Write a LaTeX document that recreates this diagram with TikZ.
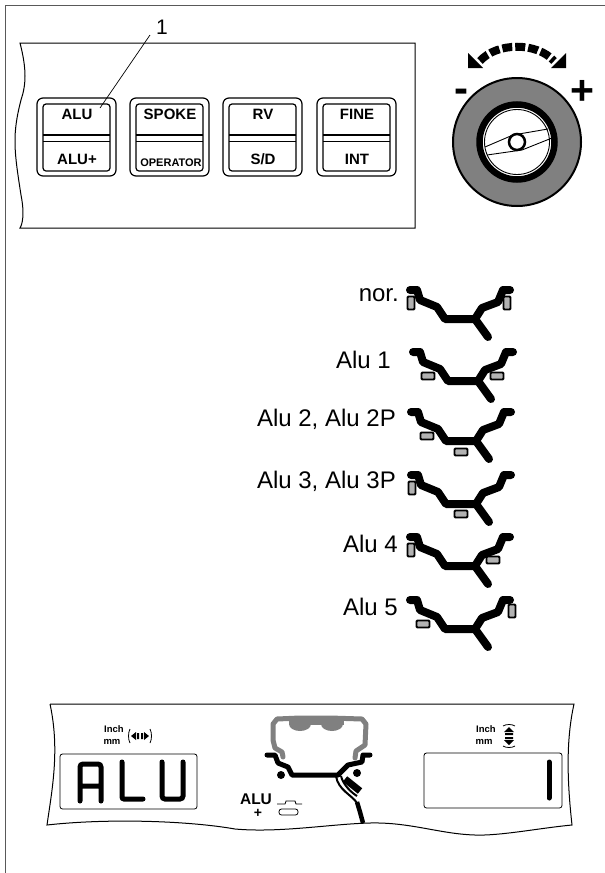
\documentclass[tikz,border=0pt]{standalone}
\usepackage{fontspec}
\setmainfont{Liberation Sans}
\usetikzlibrary{arrows.meta}
\definecolor{tyregray}{gray}{0.5}
\definecolor{weightgray}{gray}{0.7}
\newcommand{\fs}[1]{\fontsize{#1}{#1}\selectfont}
\tikzset{
  rim profile/.pic={
    \draw[line width=8pt, line cap=round, line join=round]
    (3,0) -- (10,0) -- (13,10) -- (30,17) -- (38,29) -- (68,29) -- (75,18) -- (91,12) -- (96,0) -- (103,0)
    (68,29) -- (81,47);
  },
  hweight/.style={draw, line width=1.8pt, fill=weightgray, rounded corners=1pt, minimum width=13pt, minimum height=7pt, inner sep=0pt},
  vweight/.style={draw, line width=1.8pt, fill=weightgray, rounded corners=1pt, minimum width=7pt, minimum height=13pt, inner sep=0pt},
  keylabel/.style={font=\fs{15}\bfseries, inner sep=0pt},
  rimlabel/.style={font=\fs{24}, anchor=base east, inner sep=0pt},
  unitlabel/.style={font=\fs{9.5}\bfseries, inner sep=0pt},
  keycap/.pic={
    \draw[line width=1.2pt, rounded corners=6pt] (0,0) rectangle (79,78);
    \draw[line width=1.2pt, rounded corners=3pt] (6,6) rectangle (73,73);
    \draw[line width=1.2pt] (6,37) -- (73,37) (6,43.5) -- (73,43.5);
  },
}
\begin{document}
\begin{tikzpicture}[x=1pt,y=-1pt]
  \useasboundingbox (0,0) rectangle (605,873);
  \draw[line width=0.8pt, gray!70!black] (5,873) -- (5,5) -- (605,5);
  % key panel
  \draw[line width=1pt] (415,43) -- (20,43) .. controls (27,70) and (26,85) .. (21,100) .. controls (12,135) and (14,150) .. (21,195) .. controls (25,215) and (22,225) .. (20,228) -- (415,228) -- cycle;
  \pic at (37,98) {keycap};
  \pic at (130,98) {keycap};
  \pic at (223,98) {keycap};
  \pic at (317,98) {keycap};
  \node[keylabel] (alu) at (77,114) {ALU};
  \node[keylabel] (aluplus) at (77,159) {ALU+};
  \node[keylabel] (spoke) at (170,114) {SPOKE};
  \node[keylabel, font=\fs{11}\bfseries] (operator) at (171,163) {OPERATOR};
  \node[keylabel] (rv) at (263,114) {RV};
  \node[keylabel] (sd) at (263,159) {S/D};
  \node[keylabel] (fine) at (357,114) {FINE};
  \node[keylabel] (int) at (357,159) {INT};
  \node[font=\fs{21}, inner sep=0pt] (one) at (162,27) {1};
  \coordinate (leader) at (100,108);
  \draw[line width=0.7pt] (150,35) -- (leader);
  % knob
  \coordinate (knob) at (517,142);
  \draw[line width=2pt, fill=tyregray] (knob) circle (64);
  \draw[line width=6.5pt, fill=white] (knob) circle (37.5);
  \draw[line width=0.9pt] (knob) circle (32.5);
  \draw[line width=0.9pt] (485,147) -- (513,135) -- (548,129);
  \draw[line width=0.9pt] (487,155) -- (522,150) -- (552,138);
  \draw[line width=2.5pt, fill=white] (knob) circle (8);
  \draw[line width=8pt, dash pattern=on 10pt off 3pt] (480,61) .. controls (497,42) and (537,42) .. (554,61);
  \fill (468,53) -- (468,68) -- (483,68) -- cycle;
  \fill (566,53) -- (566,68) -- (551,68) -- cycle;
  \node[font=\fs{42}\bfseries, inner sep=0pt] (minus) at (461,96) {-};
  \node[font=\fs{41}\bfseries, inner sep=0pt] (plus) at (582,92) {+};
  % rim profiles
  \pic at (407,290) {rim profile};
  \pic at (410,352) {rim profile};
  \pic at (408,412) {rim profile};
  \pic at (408,475) {rim profile};
  \pic at (407,537) {rim profile};
  \pic at (407,600) {rim profile};
  \node[vweight] (w1a) at (411,303) {};
  \node[vweight] (w1b) at (507,303) {};
  \node[hweight] (w2a) at (428,376) {};
  \node[hweight] (w2b) at (497,376) {};
  \node[hweight] (w3a) at (427,436) {};
  \node[hweight] (w3b) at (461,452) {};
  \node[vweight] (w4a) at (412,488) {};
  \node[hweight] (w4b) at (461,514) {};
  \node[vweight] (w5a) at (411,550) {};
  \node[hweight] (w5b) at (493,560) {};
  \node[hweight] (w6a) at (423,624) {};
  \node[vweight] (w6b) at (512,611) {};
  \node[rimlabel] (nor) at (399,301) {nor.};
  \node[rimlabel] (alua) at (391,368) {Alu 1};
  \node[rimlabel] (alub) at (396,426) {Alu 2, Alu 2P};
  \node[rimlabel] (aluc) at (396,488) {Alu 3, Alu 3P};
  \node[rimlabel] (alud) at (398,552) {Alu 4};
  \node[rimlabel] (alue) at (398,615) {Alu 5};
  % display panel
  \draw[line width=1pt] (50,704) -- (574,704) .. controls (566,740) and (567,780) .. (572,825) .. controls (540,828) and (500,836) .. (475,835) .. controls (440,834) and (410,822) .. (370,823) .. controls (330,824) and (280,833) .. (235,829) .. controls (190,821) and (110,818) .. (47,825) .. controls (52,790) and (60,750) .. (50,704);
  \draw[line width=0.8pt, rounded corners=2.5pt] (60,754) rectangle (197,809);
  \draw[line width=0.8pt, rounded corners=2.5pt] (424,753) rectangle (562,808);
  \draw[line width=5pt, line cap=round, rounded corners=3pt] (80,801) -- (80,764) -- (101,764) -- (101,801) (80,786) -- (101,786);
  \draw[line width=5pt, line cap=round, rounded corners=2pt] (122,762) -- (122,799) -- (143,799);
  \draw[line width=5pt, line cap=round, rounded corners=3pt] (162,762) -- (162,799) -- (183,799) -- (183,762);
  \draw[line width=5pt, line cap=round] (549,762) -- (549,798);
  \node[unitlabel] (inchl) at (114,729) {Inch};
  \node[unitlabel] (mml) at (112,742) {mm};
  \node[unitlabel] (inchr) at (486,729) {Inch};
  \node[unitlabel] (mmr) at (484,742) {mm};
  % travel marks
  \draw[line width=0.8pt] (130,729) .. controls (128,733) and (128,739) .. (130,743);
  \draw[line width=0.8pt] (150,729) .. controls (152,733) and (152,739) .. (150,743);
  \fill (131,736) -- (136,732) -- (136,740) -- cycle (149,736) -- (144,732) -- (144,740) -- cycle;
  \fill (137,733) rectangle (139,739) (141,733) rectangle (143,739);
  \draw[line width=0.8pt] (503,726) .. controls (506,724) and (512,724) .. (515,726);
  \draw[line width=0.8pt] (503,746) .. controls (506,748) and (512,748) .. (515,746);
  \fill (509,727) -- (504,732) -- (514,732) -- cycle (509,745) -- (504,740) -- (514,740) -- cycle;
  \fill (505,733) rectangle (513,735) (505,737) rectangle (513,739);
  % tyre section
  \draw[tyregray, line width=5pt, line join=round, line cap=round] (283,757) -- (282,752) -- (275,748) -- (273,740) -- (273,724) -- (277,719) -- (300,718) -- (330,718) -- (362,719) -- (366,724) -- (365,745) -- (356,751) -- (355,758);
  \fill[tyregray] (300,724) ellipse (11 and 7) (332,724) ellipse (11 and 7);
  \fill[tyregray] (289,719) rectangle (344,725);
  \draw[line width=5pt, line join=round, line cap=round] (267,755) -- (275,755) -- (278,763) -- (288,767) -- (292,775) -- (338,775) -- (348,765) -- (362,762) -- (363,755) -- (370,755);
  \fill (281,775) circle (4) (357,773) circle (4);
  \draw[line width=7pt] (345,779) -- (360,791);
  \draw[line width=2pt] (336,776) .. controls (338,790) and (352,795) .. (357,803);
  \draw[line width=2pt] (341,776) .. controls (343,785) and (352,793) .. (357,796);
  \draw[line width=4.5pt] (357,802) -- (360,812) -- (363,823);
  \node[font=\fs{15.5}\bfseries, inner sep=0pt] (alusym) at (256,799) {ALU};
  \node[font=\fs{14}\bfseries, inner sep=0pt] (plussym) at (258,813) {+};
  \draw[line width=0.8pt] (277,804) -- (285,804) -- (286,801) -- (295,801) -- (296,804) -- (302,804);
  \draw[line width=0.8pt, rounded corners=2.5pt] (279,809) rectangle (298,815);
\end{tikzpicture}
\end{document}
